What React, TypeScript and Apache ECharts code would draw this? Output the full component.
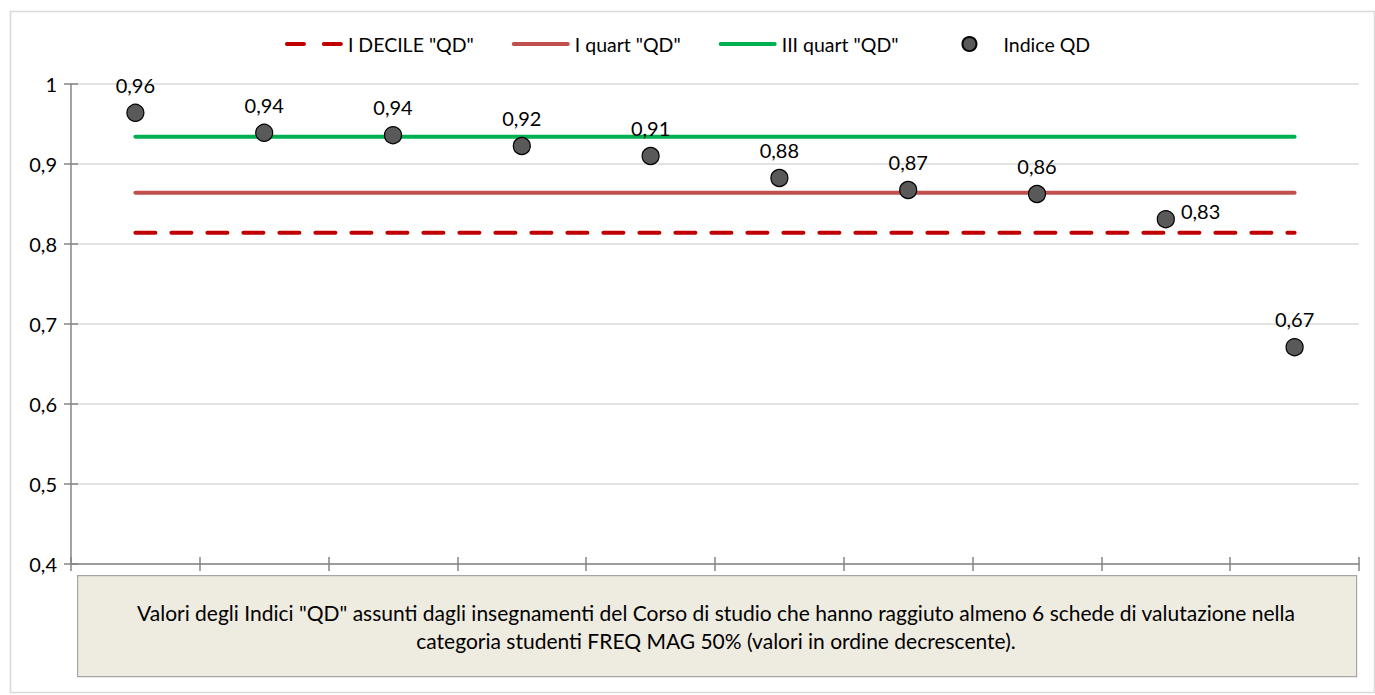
import React, { useEffect, useRef } from "react";
import * as echarts from "echarts";

const categories = ["1", "2", "3", "4", "5", "6", "7", "8", "9", "10"];
const indiceQD = [0.964, 0.939, 0.936, 0.9225, 0.91, 0.8825, 0.8675, 0.8625, 0.831, 0.671];
const decileQD = 0.814;
const quart1QD = 0.864;
const quart3QD = 0.934;
const yTicks = [0.4, 0.5, 0.6, 0.7, 0.8, 0.9, 1];
const seriesNames = ['I DECILE "QD"', 'I quart "QD"', 'III quart "QD"', "Indice QD"];
const noteLines = [
  'Valori degli Indici "QD" assunti dagli insegnamenti del Corso di studio che hanno raggiuto almeno 6 schede di valutazione nella',
  "categoria studenti FREQ MAG 50% (valori in ordine decrescente).",
];

const FONT = "Lato, 'Open Sans', sans-serif";
const fmt = (v: number) => String(Math.round(v * 100) / 100).replace(".", ",");

const DASH_ICON = "path://M2,0h16a2,2 0 0 1 0,4h-16a2,2 0 0 1 0,-4z M37,0h16a2,2 0 0 1 0,4h-16a2,2 0 0 1 0,-4z";
const LINE_ICON = "path://M2,0h56a2,2 0 0 1 0,4h-56a2,2 0 0 1 0,-4z";

export default function App() {
  const ref = useRef<HTMLDivElement>(null);
  useEffect(() => {
    if (!ref.current) return;
    const chart = echarts.init(ref.current, undefined, { renderer: "svg" });
    const axisColor = "#868686";
    const option: any = {
      animation: false,
      backgroundColor: "#ffffff",
      textStyle: { fontFamily: FONT },
      legend: {
        top: 29,
        left: "center",
        itemWidth: 58,
        itemHeight: 14,
        itemGap: 38,
        symbolKeepAspect: true,
        textStyle: { fontSize: 19.5, color: "#000", fontFamily: FONT },
        formatter: (name: string) => (name === seriesNames[2] ? name + "     " : name),
        data: [
          { name: seriesNames[0], icon: DASH_ICON },
          { name: seriesNames[1], icon: LINE_ICON },
          { name: seriesNames[2], icon: LINE_ICON },
          { name: seriesNames[3], icon: "circle" },
        ],
      },
      grid: { left: 71, right: 16, top: 84, bottom: 131 },
      xAxis: [
        {
          type: "category",
          data: categories,
          boundaryGap: true,
          axisLine: { lineStyle: { color: axisColor, width: 1.5 } },
          axisTick: { show: true, length: 7, lineStyle: { color: axisColor, width: 1.5 } },
          axisLabel: { show: false },
          splitLine: { show: false },
        },
        {
          type: "category",
          data: categories,
          position: "bottom",
          boundaryGap: true,
          axisLine: { show: false },
          axisTick: { show: true, inside: true, length: 7, lineStyle: { color: axisColor, width: 1.5 } },
          axisLabel: { show: false },
          splitLine: { show: false },
        },
      ],
      yAxis: [
        {
          type: "value",
          min: yTicks[0],
          max: yTicks[yTicks.length - 1],
          interval: 0.1,
          axisLine: { show: true, lineStyle: { color: axisColor, width: 1.5 } },
          axisTick: { show: true, length: 7, lineStyle: { color: axisColor, width: 1.5 } },
          axisLabel: { formatter: (v: number) => fmt(v), fontSize: 20, color: "#000", margin: 14, fontFamily: FONT },
          splitLine: { show: true, lineStyle: { color: "#d9d9d9", width: 1.5 } },
        },
        {
          type: "value",
          position: "left",
          min: yTicks[0],
          max: yTicks[yTicks.length - 1],
          interval: 0.1,
          axisLine: { show: false },
          axisTick: { show: true, inside: true, length: 7, lineStyle: { color: axisColor, width: 1.5 } },
          axisLabel: { show: false },
          splitLine: { show: false },
        },
      ],
      series: [
        {
          name: seriesNames[0],
          type: "line",
          data: categories.map(() => decileQD),
          symbol: "none",
          lineStyle: { color: "#C00000", width: 4, type: [20, 16], cap: "round" },
          itemStyle: { color: "#C00000" },
          z: 2,
        },
        {
          name: seriesNames[1],
          type: "line",
          data: categories.map(() => quart1QD),
          symbol: "none",
          lineStyle: { color: "#C0504D", width: 4, cap: "round" },
          itemStyle: { color: "#C0504D" },
          z: 2,
        },
        {
          name: seriesNames[2],
          type: "line",
          data: categories.map(() => quart3QD),
          symbol: "none",
          lineStyle: { color: "#00B050", width: 4, cap: "round" },
          itemStyle: { color: "#00B050" },
          z: 2,
        },
        {
          name: seriesNames[3],
          type: "scatter",
          data: indiceQD.map((v, i) =>
            i === 8
              ? { value: v, label: { position: "right", distance: 6, offset: [0, -8] } }
              : v
          ),
          symbol: "circle",
          symbolSize: 17,
          itemStyle: { color: "#595959", borderColor: "#000", borderWidth: 1.2, opacity: 1 },
          label: {
            show: true,
            position: "top",
            distance: 9,
            formatter: (p: any) => fmt(p.value),
            fontSize: 20,
            color: "#000",
            fontFamily: FONT,
          },
          z: 5,
        },
      ],
      graphic: [
        {
          type: "rect",
          left: 8,
          top: 9,
          shape: { width: 1364, height: 681 },
          style: { fill: "none", stroke: "#d9d9d9", lineWidth: 1.5 },
          silent: true,
          z: -10,
        },
        {
          type: "rect",
          left: 77,
          top: 575,
          shape: { width: 1279, height: 101 },
          style: { fill: "#EEEBE0", stroke: "#A6A6A6", lineWidth: 1.2 },
          z: 10,
        },
        {
          type: "text",
          x: 716,
          y: 612,
          style: {
            text: noteLines[0],
            fontSize: 21,
            fontFamily: FONT,
            fill: "#000",
            align: "center",
            verticalAlign: "middle",
          },
          z: 11,
        },
        {
          type: "text",
          x: 716,
          y: 640,
          style: {
            text: noteLines[1],
            fontSize: 21,
            fontFamily: FONT,
            fill: "#000",
            align: "center",
            verticalAlign: "middle",
          },
          z: 11,
        },
      ],
    };
    chart.setOption(option);
    return () => chart.dispose();
  }, []);
  return (
    <div
      ref={ref}
      style={{ position: "fixed", left: 0, top: 0, width: 1375, height: 695 }}
    />
  );
}
